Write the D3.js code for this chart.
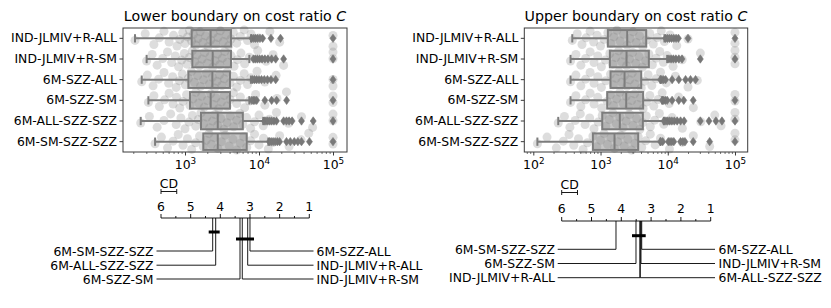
<!DOCTYPE html>
<html>
<head>
<meta charset="utf-8">
<script src="https://cdn.jsdelivr.net/npm/d3@7"></script>
<style>
body { margin: 0; background: #fff; }
text { font-family: "DejaVu Sans", sans-serif; fill: #000; }
</style>
</head>
<body>
<div id="chart-container"></div>
<script>
var methods = ["IND-JLMIV+R-ALL", "IND-JLMIV+R-SM", "6M-SZZ-ALL", "6M-SZZ-SM", "6M-ALL-SZZ-SZZ", "6M-SM-SZZ-SZZ"];

//lower boundary box statistics (one entry per method)
var lowerWhiskLo = [211, 303, 260, 320, 252, 394];
var lowerQ1 = [1230, 1255, 1110, 1168, 1645, 1766];
var lowerMedian = [2220, 2366, 2340, 2223, 2770, 2770];
var lowerQ3 = [4180, 4180, 4050, 4050, 6040, 6820];
var lowerWhiskHi = [7800, 7400, 7770, 7400, 11400, 13360];
var lowerFliers = [
    [8000, 8500, 9000, 9600, 10300, 11200, 14500, 19500, 100000],
    [8400, 8900, 9500, 10200, 11000, 12000, 13200, 14800, 16800, 21500, 100000],
    [8200, 8700, 9300, 10000, 10800, 11800, 13000, 14500, 16800, 100000],
    [8000, 8400, 8800, 9300, 12000, 14800, 17300, 23600, 100000],
    [11800, 12400, 13100, 13900, 14800, 15900, 17200, 21500, 23500, 25500, 28000, 37500, 54000, 100000],
    [13800, 14600, 15500, 16500, 17700, 19000, 23500, 26500, 30000, 33500, 37500, 48000, 100000]
];
var lowerStrip = [
    [211, 290, 380, 450, 520, 610, 700, 780, 850, 930, 1000, 1080, 1150, 1230, 1300, 1400, 1500, 1600, 1750, 1900, 2050, 2220, 2400, 2600, 2800, 3000, 3300, 3600, 3900, 4180, 4500, 5000, 5600, 6300, 7000, 7800, 8700, 10000, 14000, 19000, 100000, 100000],
    [303, 360, 420, 500, 580, 660, 740, 820, 900, 980, 1060, 1150, 1255, 1350, 1450, 1560, 1700, 1850, 2000, 2180, 2366, 2550, 2750, 2950, 3200, 3450, 3750, 4180, 4600, 5100, 5700, 6400, 7400, 9600, 12500, 15500, 21500, 100000, 100000],
    [260, 310, 370, 440, 520, 600, 680, 760, 840, 920, 1010, 1110, 1220, 1340, 1480, 1620, 1780, 1950, 2140, 2340, 2520, 2720, 2930, 3150, 3400, 3700, 4050, 4500, 5000, 5600, 6300, 7000, 7770, 9400, 12000, 17000, 100000, 100000],
    [320, 380, 450, 530, 610, 690, 770, 850, 940, 1050, 1168, 1280, 1400, 1530, 1670, 1820, 2000, 2223, 2420, 2620, 2850, 3100, 3400, 3700, 4050, 4500, 5000, 5600, 6400, 7400, 9000, 12000, 17500, 23500, 100000, 100000],
    [252, 330, 420, 520, 640, 760, 880, 1000, 1130, 1260, 1400, 1520, 1645, 1800, 1970, 2150, 2350, 2550, 2770, 3050, 3350, 3700, 4100, 4550, 5000, 5500, 6040, 6800, 7700, 8700, 10000, 11400, 13800, 17200, 25000, 37500, 53000, 100000, 100000],
    [394, 480, 580, 690, 810, 940, 1080, 1230, 1390, 1570, 1766, 1930, 2100, 2280, 2480, 2770, 3100, 3500, 3950, 4450, 5000, 5600, 6200, 6820, 7700, 8700, 10000, 11500, 13360, 15500, 19000, 25500, 37000, 47000, 100000, 100000]
];

//upper boundary box statistics
var upperWhiskLo = [380, 358, 358, 358, 235, 115];
var upperQ1 = [1285, 1377, 1408, 1257, 1060, 769];
var upperMedian = [2494, 2436, 2275, 2410, 1936, 1615];
var upperQ3 = [4780, 5230, 4030, 4300, 4260, 3630];
var upperWhiskHi = [8920, 9800, 7800, 8260, 8720, 7800];
var upperFliers = [
    [9300, 9900, 10600, 11400, 12300, 13300, 14400, 20000, 100000],
    [10400, 11200, 12100, 13200, 14600, 16300, 30500, 100000],
    [7800, 8200, 8700, 9300, 11600, 14600, 18400, 21800, 25900],
    [8300, 8700, 9200, 9800, 11600, 14600, 17300, 23900, 100000],
    [8800, 9400, 10000, 10700, 11500, 12500, 13800, 15500, 17500, 30500, 41000, 52000, 64000, 100000],
    [7800, 8400, 10200, 10800, 11500, 12300, 15500, 16800, 18000, 23900, 42000, 100000]
];
var upperStrip = [
    [380, 450, 530, 610, 700, 790, 890, 1000, 1130, 1285, 1420, 1580, 1750, 1950, 2200, 2494, 2750, 3050, 3400, 3800, 4250, 4780, 5400, 6100, 7000, 8000, 8920, 10800, 13600, 20000, 100000, 100000],
    [358, 430, 510, 600, 700, 800, 910, 1030, 1180, 1377, 1520, 1680, 1860, 2050, 2250, 2436, 2700, 3000, 3350, 3750, 4200, 4700, 5230, 5900, 6700, 7600, 8600, 9800, 12000, 16400, 30500, 100000, 100000, 100000],
    [358, 430, 510, 600, 700, 800, 910, 1030, 1200, 1408, 1550, 1700, 1870, 2060, 2275, 2480, 2700, 2950, 3250, 3600, 4030, 4500, 5100, 5800, 6700, 7800, 9500, 13000, 20000, 27500],
    [358, 430, 510, 600, 700, 800, 910, 1040, 1257, 1400, 1560, 1740, 1940, 2160, 2410, 2650, 2900, 3200, 3550, 3900, 4300, 4800, 5400, 6200, 7200, 8260, 10500, 14500, 24000, 100000, 100000],
    [235, 290, 350, 420, 500, 590, 690, 800, 920, 1060, 1200, 1350, 1520, 1720, 1936, 2150, 2400, 2700, 3050, 3450, 3850, 4260, 4800, 5500, 6400, 7500, 8720, 11600, 16500, 31000, 50000, 62000, 100000, 100000],
    [115, 160, 220, 280, 340, 400, 470, 550, 640, 769, 880, 1000, 1130, 1270, 1430, 1615, 1800, 2000, 2250, 2550, 2900, 3250, 3630, 4100, 4700, 5500, 6500, 7800, 10600, 16500, 24000, 42000, 100000, 100000]
];

//average ranks for the critical difference diagrams
var lowerRanks = [3.077, 3.26, 3.0, 3.336, 4.156, 4.257];
var upperRanks = [3.375, 3.339, 3.315, 3.507, 3.365, 4.178];
var lowerCliques = [
    ["6M-SM-SZZ-SZZ", "6M-ALL-SZZ-SZZ"],
    ["6M-SZZ-SM", "IND-JLMIV+R-SM", "IND-JLMIV+R-ALL", "6M-SZZ-ALL"]
];
var upperCliques = [
    ["6M-SZZ-SM", "IND-JLMIV+R-ALL", "6M-ALL-SZZ-SZZ", "IND-JLMIV+R-SM", "6M-SZZ-ALL"]
];
var criticalDiff = 0.53;

var majorTicks = [100, 1000, 10000, 100000];

var svg = d3.select("#chart-container")
    .append("svg")
    .attr("width", 831)
    .attr("height", 308)
    .style("background", "#fff");

var boxEdge = "#7c7c7c";
var boxFill = "#c6c6c6";

//draws one boxplot + stripplot panel
function drawBoxPanel(cfg)
{
    var x = d3.scaleLog()
        .domain([Math.pow(10, cfg.logMin), Math.pow(10, cfg.logMax)])
        .range([cfg.left, cfg.right]);
    var y = d3.scaleBand()
        .domain(methods)
        .range([cfg.top, cfg.bottom]);
    var bw = y.bandwidth();
    var g = svg.append("g");

    //title
    g.append("text")
        .attr("x", (cfg.left + cfg.right) / 2)
        .attr("y", 20.5)
        .attr("text-anchor", "middle")
        .style("font-size", "14.2px")
        .html(cfg.title + ' <tspan font-style="italic">C</tspan>');

    var rows = methods.map(function(m, i) {
        return {name: m, lo: cfg.lo[i], q1: cfg.q1[i], med: cfg.med[i], q3: cfg.q3[i], hi: cfg.hi[i], fliers: cfg.fliers[i], strip: cfg.strip[i]};
    });

    var row = g.selectAll(".row")
        .data(rows)
        .enter()
        .append("g")
        .attr("transform", function(d) { return "translate(0," + (y(d.name) + bw / 2) + ")"; });

    //whiskers
    row.append("line")
        .attr("x1", function(d) { return x(d.lo); })
        .attr("x2", function(d) { return x(d.q1); })
        .attr("stroke", boxEdge).attr("stroke-width", 2);
    row.append("line")
        .attr("x1", function(d) { return x(d.q3); })
        .attr("x2", function(d) { return x(d.hi); })
        .attr("stroke", boxEdge).attr("stroke-width", 2);
    //caps
    row.append("line")
        .attr("x1", function(d) { return x(d.lo); })
        .attr("x2", function(d) { return x(d.lo); })
        .attr("y1", -bw * 0.2).attr("y2", bw * 0.2)
        .attr("stroke", boxEdge).attr("stroke-width", 2);
    row.append("line")
        .attr("x1", function(d) { return x(d.hi); })
        .attr("x2", function(d) { return x(d.hi); })
        .attr("y1", -bw * 0.2).attr("y2", bw * 0.2)
        .attr("stroke", boxEdge).attr("stroke-width", 2);
    //box
    row.append("rect")
        .attr("x", function(d) { return x(d.q1); })
        .attr("width", function(d) { return x(d.q3) - x(d.q1); })
        .attr("y", -bw * 0.4)
        .attr("height", bw * 0.8)
        .attr("fill", boxFill)
        .attr("stroke", boxEdge)
        .attr("stroke-width", 2);
    //median
    row.append("line")
        .attr("x1", function(d) { return x(d.med); })
        .attr("x2", function(d) { return x(d.med); })
        .attr("y1", -bw * 0.4).attr("y2", bw * 0.4)
        .attr("stroke", boxEdge).attr("stroke-width", 2);
    //fliers (thin diamonds)
    row.selectAll(".flier")
        .data(function(d) { return d.fliers; })
        .enter()
        .append("path")
        .attr("d", "M0,-4.2L3,0L0,4.2L-3,0Z")
        .attr("transform", function(v) { return "translate(" + x(v) + ",0)"; })
        .attr("fill", "#767676")
        .attr("stroke", "#767676")
        .attr("stroke-width", 0.6);
    //strip points, jittered with a golden ratio sequence
    row.selectAll(".pt")
        .data(function(d) { return d.strip; })
        .enter()
        .append("circle")
        .attr("cx", function(v) { return x(v); })
        .attr("cy", function(v, i) { return (((i + 1) * 0.618034) % 1 * 2 - 1) * bw * 0.42; })
        .attr("r", 4.5)
        .attr("fill", "#808080")
        .attr("fill-opacity", 0.27);

    //frame
    g.append("rect")
        .attr("x", cfg.left).attr("y", cfg.top)
        .attr("width", cfg.right - cfg.left)
        .attr("height", cfg.bottom - cfg.top)
        .attr("fill", "none")
        .attr("stroke", "#3a3a3a")
        .attr("stroke-width", 1);

    //y axis
    var yAxis = g.append("g")
        .attr("transform", "translate(" + cfg.left + ",0)")
        .call(d3.axisLeft(y).tickSize(3.5).tickPadding(2.5));
    yAxis.select(".domain").remove();
    yAxis.selectAll("line").attr("stroke", "#3a3a3a");
    yAxis.selectAll("text")
        .style("font-size", "12.4px")
        .style("font-family", "DejaVu Sans");

    //minor x ticks
    var minor = [];
    for (var e = 1; e <= 5; e++)
        for (var k = 2; k <= 9; k++)
        {
            var v = k * Math.pow(10, e);
            if (v >= x.domain()[0] && v <= x.domain()[1]) minor.push(v);
        }
    var xMinor = g.append("g")
        .attr("transform", "translate(0," + cfg.bottom + ")")
        .call(d3.axisBottom(x).tickValues(minor).tickSize(2).tickFormat(""));
    xMinor.select(".domain").remove();
    xMinor.selectAll("line").attr("stroke", "#3a3a3a").attr("stroke-width", 0.7);

    //major x ticks with 10^n labels
    var majors = majorTicks.filter(function(v) { return v >= x.domain()[0] && v <= x.domain()[1]; });
    var xAxis = g.append("g")
        .attr("transform", "translate(0," + cfg.bottom + ")")
        .call(d3.axisBottom(x).tickValues(majors).tickSize(3.5).tickFormat(""));
    xAxis.select(".domain").remove();
    xAxis.selectAll("line").attr("stroke", "#3a3a3a");
    xAxis.selectAll(".tick")
        .append("text")
        .attr("y", 16.5)
        .attr("text-anchor", "middle")
        .style("font-size", "12.4px")
        .style("font-family", "DejaVu Sans")
        .attr("fill", "#000")
        .each(function(v) {
            var t = d3.select(this);
            t.append("tspan").text("10");
            t.append("tspan")
                .attr("dy", -5)
                .style("font-size", "8.8px")
                .text(Math.round(Math.log10(v)));
        });
}

//draws a critical difference diagram
function drawCD(cfg)
{
    var x = d3.scaleLinear().domain([6, 1]).range([cfg.x6, cfg.x1]);
    var g = svg.append("g");

    //CD bar
    g.append("line")
        .attr("x1", x(6)).attr("x2", x(6 - criticalDiff))
        .attr("y1", cfg.cdY).attr("y2", cfg.cdY)
        .attr("stroke", "#000").attr("stroke-width", 0.9);
    [6, 6 - criticalDiff].forEach(function(r) {
        g.append("line")
            .attr("x1", x(r)).attr("x2", x(r))
            .attr("y1", cfg.cdY - 2.5).attr("y2", cfg.cdY + 2.5)
            .attr("stroke", "#000").attr("stroke-width", 0.9);
    });
    g.append("text")
        .attr("x", x(6 - criticalDiff / 2))
        .attr("y", cfg.cdY - 4)
        .attr("text-anchor", "middle")
        .style("font-size", "12.4px")
        .text("CD");

    //rank axis
    g.append("line")
        .attr("x1", x(6)).attr("x2", x(1))
        .attr("y1", cfg.cline).attr("y2", cfg.cline)
        .attr("stroke", "#000").attr("stroke-width", 0.9);
    g.selectAll(".rt")
        .data(d3.range(1, 6.01, 0.5))
        .enter()
        .append("line")
        .attr("x1", function(d) { return x(d); })
        .attr("x2", function(d) { return x(d); })
        .attr("y1", function(d) { return cfg.cline - (d === Math.round(d) ? 4 : 2); })
        .attr("y2", cfg.cline)
        .attr("stroke", "#000").attr("stroke-width", 0.9);
    g.selectAll(".rl")
        .data(d3.range(1, 7))
        .enter()
        .append("text")
        .attr("x", function(d) { return x(d); })
        .attr("y", cfg.tickY)
        .attr("text-anchor", "middle")
        .style("font-size", "12.4px")
        .text(function(d) { return d; });

    //method labels, worst half on the left
    var sorted = methods.map(function(m, i) { return {name: m, rank: cfg.ranks[i]}; })
        .sort(function(a, b) { return b.rank - a.rank; });
    var half = sorted.length / 2;
    var leftSide = sorted.slice(0, half);
    var rightSide = sorted.slice(half).reverse();
    var path = d3.line();

    leftSide.forEach(function(d, k) {
        var yy = cfg.rows[k];
        g.append("path")
            .attr("d", path([[x(d.rank), cfg.cline], [x(d.rank), yy], [cfg.lineLeft, yy]]))
            .attr("fill", "none").attr("stroke", "#000").attr("stroke-width", 0.9);
        g.append("text")
            .attr("x", cfg.textLeft).attr("y", yy)
            .attr("text-anchor", "end")
            .attr("dominant-baseline", "central")
            .style("font-size", "12.4px")
            .text(d.name);
    });
    rightSide.forEach(function(d, k) {
        var yy = cfg.rows[k];
        g.append("path")
            .attr("d", path([[x(d.rank), cfg.cline], [x(d.rank), yy], [cfg.lineRight, yy]]))
            .attr("fill", "none").attr("stroke", "#000").attr("stroke-width", 0.9);
        g.append("text")
            .attr("x", cfg.textRight).attr("y", yy)
            .attr("text-anchor", "start")
            .attr("dominant-baseline", "central")
            .style("font-size", "12.4px")
            .text(d.name);
    });

    //cliques of methods that are not significantly different
    cfg.cliques.forEach(function(c, k) {
        var rs = c.map(function(n) { return cfg.ranks[methods.indexOf(n)]; });
        g.append("line")
            .attr("x1", x(d3.max(rs)) - 4)
            .attr("x2", x(d3.min(rs)) + 4)
            .attr("y1", cfg.cliqueY[k]).attr("y2", cfg.cliqueY[k])
            .attr("stroke", "#000").attr("stroke-width", 3);
    });
}

drawBoxPanel({
    title: "Lower boundary on cost ratio",
    left: 123, right: 347, top: 28, bottom: 152,
    logMin: 2.162, logMax: 5.189,
    lo: lowerWhiskLo, q1: lowerQ1, med: lowerMedian, q3: lowerQ3, hi: lowerWhiskHi,
    fliers: lowerFliers, strip: lowerStrip
});
drawBoxPanel({
    title: "Upper boundary on cost ratio",
    left: 524.3, right: 747.7, top: 28, bottom: 152,
    logMin: 1.866, logMax: 5.189,
    lo: upperWhiskLo, q1: upperQ1, med: upperMedian, q3: upperQ3, hi: upperWhiskHi,
    fliers: upperFliers, strip: upperStrip
});

drawCD({
    ranks: lowerRanks, cliques: lowerCliques,
    x6: 161, x1: 309.3, cline: 218, tickY: 211, cdY: 191.5,
    rows: [251, 265.2, 279], cliqueY: [232, 239],
    lineLeft: 156.5, lineRight: 313.5, textLeft: 153.5, textRight: 316.5
});
drawCD({
    ranks: upperRanks, cliques: upperCliques,
    x6: 561.7, x1: 710.7, cline: 221, tickY: 213, cdY: 192.5,
    rows: [249.3, 263.5, 277.7], cliqueY: [235.7],
    lineLeft: 557.7, lineRight: 715, textLeft: 555, textRight: 718.5
});
</script>
</body>
</html>
